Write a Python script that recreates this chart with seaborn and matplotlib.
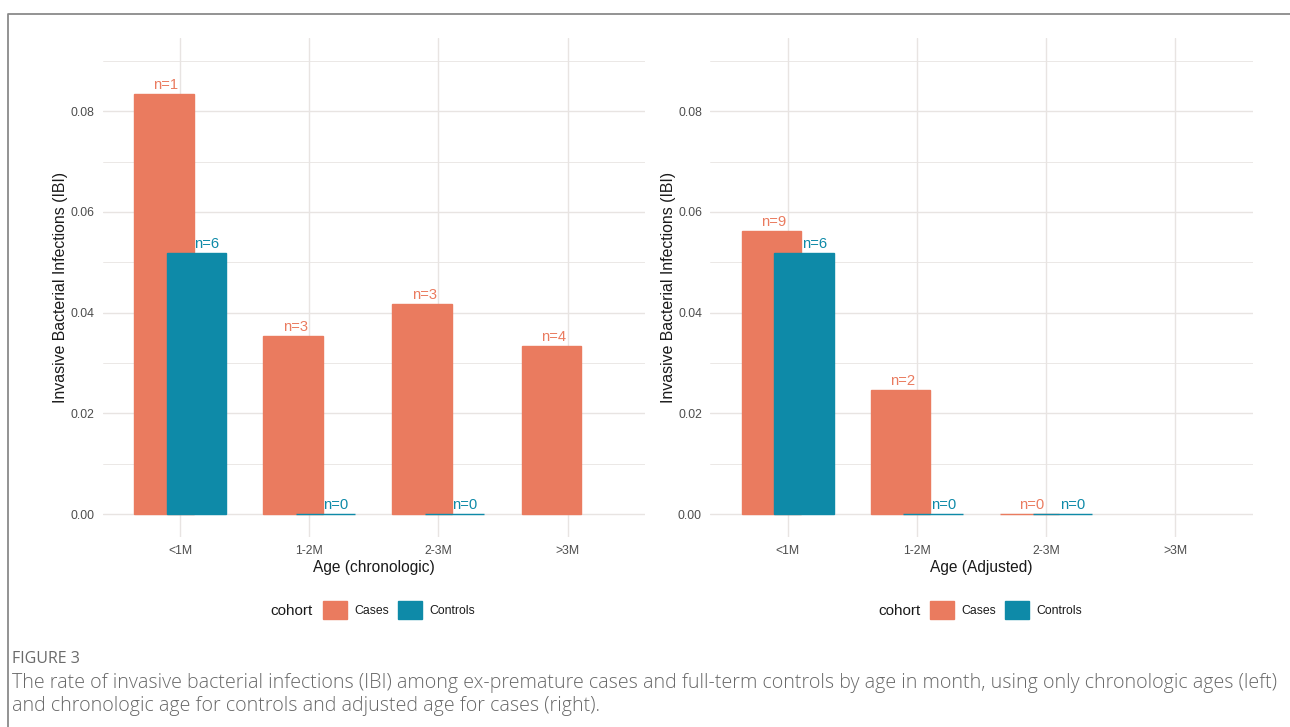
import matplotlib
matplotlib.use("Agg")
import matplotlib.pyplot as plt
from matplotlib.patches import Patch
from matplotlib.lines import Line2D
from matplotlib.ticker import MultipleLocator, FormatStrFormatter, FixedLocator
import pandas as pd
import seaborn as sns

# ---- data -------------------------------------------------------------
age_groups = ["<1M", "1-2M", "2-3M", ">3M"]
cohorts = ["Cases", "Controls"]

# IBI rate by age group (None = no patients in that group)
chrono_cases = [0.0835, 0.0354, 0.0418, 0.0333]
chrono_controls = [0.0519, 0.0, 0.0, None]
chrono_cases_n = [1, 3, 3, 4]
chrono_controls_n = [6, 0, 0, None]

adjusted_cases = [0.0562, 0.0246, 0.0, None]
adjusted_controls = [0.0519, 0.0, 0.0, None]
adjusted_cases_n = [9, 2, 0, None]
adjusted_controls_n = [6, 0, 0, None]

y_ticks = [0.00, 0.02, 0.04, 0.06, 0.08]

# ---- style ------------------------------------------------------------
sns.set_theme(style="white")
plt.rcParams["font.family"] = ["Liberation Sans", "DejaVu Sans"]

COLORS = {"Cases": "#EA7B5F", "Controls": "#0E8AA8"}
GRID = "#E8E4E2"
TICK_COLOR = "#4D4D4D"
BAR_WIDTH = 0.46
BAR_SHIFT = {"Cases": -0.126, "Controls": 0.126}
LABEL_SHIFT = {"Cases": -0.11, "Controls": 0.205}

fig = plt.figure(figsize=(12.9, 7.27), dpi=100)
W, H = 1290, 727


def px_axes(left, top, right, bottom):
    return fig.add_axes([left / W, 1 - bottom / H, (right - left) / W, (bottom - top) / H])


def draw_panel(ax, cases, controls, cases_n, controls_n, xlabel):
    rows = []
    for cohort, vals, ns in (("Cases", cases, cases_n), ("Controls", controls, controls_n)):
        for i, (v, n) in enumerate(zip(vals, ns)):
            if v is None:
                continue
            rows.append((cohort, i + BAR_SHIFT[cohort], v, n))
    df = pd.DataFrame(rows, columns=["cohort", "pos", "rate", "n"])

    for cohort in cohorts:
        sub = df[df["cohort"] == cohort]
        sns.barplot(data=sub, x="pos", y="rate", native_scale=True, width=BAR_WIDTH,
                    color=COLORS[cohort], saturation=1, edgecolor=COLORS[cohort],
                    linewidth=1.0, errorbar=None, ax=ax, zorder=3)
        for _, r in sub.iterrows():
            ax.text(r["pos"] - BAR_SHIFT[cohort] + LABEL_SHIFT[cohort], r["rate"] + 0.001,
                    f"n={int(r['n'])}", ha="center", va="baseline",
                    color=COLORS[cohort], fontsize=10.6, zorder=4)

    ax.set_xlim(-0.6, len(age_groups) - 0.4)
    ax.set_ylim(-0.0045, 0.0945)
    ax.set_xticks(range(len(age_groups)))
    ax.set_xticklabels(age_groups)
    ax.yaxis.set_major_locator(FixedLocator(y_ticks))
    ax.yaxis.set_minor_locator(MultipleLocator(0.01))
    ax.yaxis.set_major_formatter(FormatStrFormatter("%.2f"))

    ax.grid(True, which="major", axis="both", color=GRID, linewidth=1.0, zorder=0)
    ax.grid(True, which="minor", axis="y", color=GRID, linewidth=0.6, zorder=0)
    ax.set_axisbelow(True)
    for s in ax.spines.values():
        s.set_visible(False)
    ax.tick_params(axis="both", which="both", length=0, labelsize=8.8,
                   labelcolor=TICK_COLOR)
    ax.tick_params(axis="x", pad=6)
    ax.tick_params(axis="y", pad=6)

    ax.set_xlabel(xlabel, fontsize=11.2, color="#1A1A1A", labelpad=2)
    ax.set_ylabel("Invasive Bacterial Infections (IBI)", fontsize=11.4,
                  color="#1A1A1A", labelpad=1.5)


ax1 = px_axes(102.7, 38.3, 645.0, 536.7)
ax2 = px_axes(710.3, 38.3, 1252.5, 536.7)

draw_panel(ax1, chrono_cases, chrono_controls, chrono_cases_n, chrono_controls_n,
           "Age (chronologic)")
draw_panel(ax2, adjusted_cases, adjusted_controls, adjusted_cases_n, adjusted_controls_n,
           "Age (Adjusted)")

# ---- legends ------------------------------------------------------------
handles = [Patch(facecolor=COLORS[c], edgecolor=COLORS[c]) for c in cohorts]
for ax, cx, title_right in ((ax1, 399, 313), (ax2, 1006, 920.6)):
    leg = ax.legend(handles, cohorts, ncol=2, loc="center",
                    bbox_to_anchor=(cx / W, 1 - 610 / H), bbox_transform=fig.transFigure,
                    frameon=False, fontsize=8.8, handlelength=1.95, handleheight=1.95,
                    handletextpad=0.65, columnspacing=0.7, borderpad=0, borderaxespad=0)
    for t in leg.get_texts():
        t.set_color("#1A1A1A")
    fig.text(title_right / W, 1 - 611 / H, "cohort", ha="right", va="center",
             fontsize=11, color="#1A1A1A")

# ---- frame and caption --------------------------------------------------
fig.add_artist(Line2D([8 / W, 8 / W, 1.0], [0.0, 1 - 14 / H, 1 - 14 / H],
                      transform=fig.transFigure, color="#8A8A8A", linewidth=1.3))

cap_font = ["Open Sans", "DejaVu Sans"]
fig.text(12 / W, 1 - 659 / H, "FIGURE 3", ha="left", va="center", fontsize=11.5,
         color="#6A6A6A", family=cap_font)
fig.text(12 / W, 1 - 683 / H,
         "The rate of invasive bacterial infections (IBI) among ex-premature cases and "
         "full-term controls by age in month, using only chronologic ages (left)",
         ha="left", va="center", fontsize=14.1, color="#686868", family=cap_font,
         fontweight="light")
fig.text(12 / W, 1 - 706 / H,
         "and chronologic age for controls and adjusted age for cases (right).",
         ha="left", va="center", fontsize=14.1, color="#686868", family=cap_font,
         fontweight="light")

fig.savefig("out.png", dpi=100, facecolor="white")
